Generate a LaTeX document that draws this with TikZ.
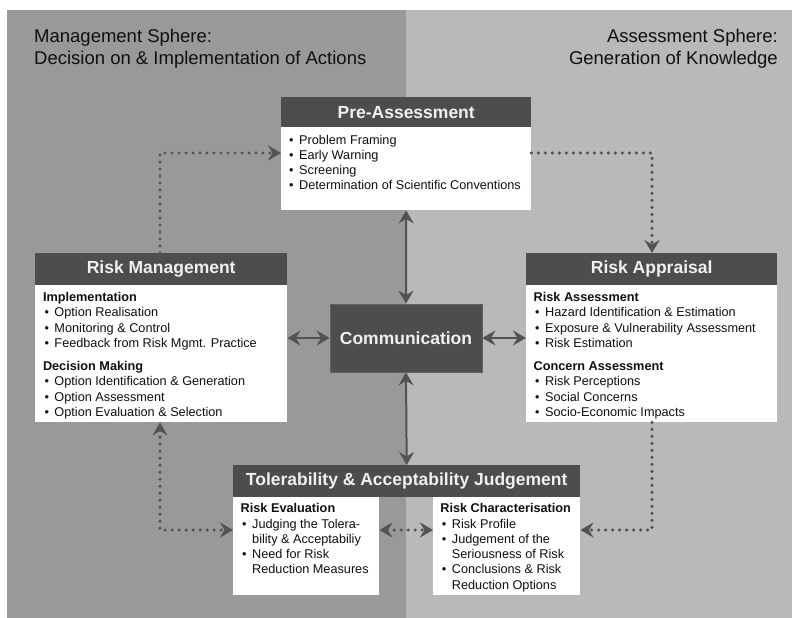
\documentclass[tikz,border=0pt]{standalone}
\usepackage{fontspec}
\setmainfont{Liberation Sans}
\usetikzlibrary{arrows.meta}
\definecolor{bgL}{HTML}{999999}
\definecolor{bgR}{HTML}{B9B9B9}
\definecolor{hdr}{HTML}{4D4D4D}
\definecolor{arr}{HTML}{525252}
\definecolor{ttl}{HTML}{101010}
\newcommand\bu{\makebox[11.5pt][l]{\hspace{1.5pt}\textbullet}}
\newcommand\bi{\hspace*{11.5pt}}
\begin{document}
\begin{tikzpicture}[x=1pt,y=-1pt,
  >={Stealth[length=13pt,width=15pt,inset=4.5pt]},
  hbox/.style={fill=hdr,text=white!94!black,inner sep=0,anchor=north west,
    font=\bfseries\fontsize{17.5}{20}\selectfont},
  bbox/.style={fill=white,inner sep=0,anchor=north west},
  btext/.style={inner sep=0,anchor=north west,align=left,text=ttl,
    font=\fontsize{12.7}{15.3}\selectfont},
  ttext/.style={inner sep=0,text=ttl,font=\fontsize{18.5}{22}\selectfont},
  sarr/.style={draw=arr,fill=arr,line width=2pt,<->},
  darr/.style={draw=arr,line width=3.4pt,line cap=round,dash pattern=on 0pt off 7pt}
]
\useasboundingbox (0,0) rectangle (792,618);
\fill[white] (0,0) rectangle (792,618);
\fill[bgL] (7,10) rectangle (406,618);
\fill[bgR] (406,10) rectangle (792,618);

% sphere titles
\node[ttext,anchor=west,align=left] (msph) at (34,49) {Management Sphere:\\Decision on \& Implementation of Actions};
\node[ttext,anchor=east,align=right] (asph) at (778,49) {Assessment Sphere:\\Generation of Knowledge};

% Pre-Assessment
\node[hbox,minimum width=250,minimum height=30] (pah) at (281,97) {Pre-Assessment};
\node[bbox,minimum width=250,minimum height=83] (pab) at (281,127) {};
\node[btext] (pat) at (287.5,134.6) {\bu Problem Framing\\\bu Early Warning\\\bu Screening\\\bu Determination of Scientific Conventions};

% Risk Management
\node[hbox,minimum width=252,minimum height=32] (rmh) at (35,253) {Risk Management};
\node[bbox,minimum width=252,minimum height=137] (rmb) at (35,285) {};
\node[btext] (rmt) at (42.8,292) {\textbf{Implementation}\\\bu Option Realisation\\\bu Monitoring \& Control\\\bu Feedback from Risk Mgmt. Practice\\[8pt]
\textbf{Decision Making}\\\bu Option Identification \& Generation\\\bu Option Assessment\\\bu Option Evaluation \& Selection};

% Risk Appraisal
\node[hbox,minimum width=251,minimum height=32] (rah) at (526,253) {Risk Appraisal};
\node[bbox,minimum width=251,minimum height=137] (rab) at (526,285) {};
\node[btext] (rat) at (533.5,292) {\textbf{Risk Assessment}\\\bu Hazard Identification \& Estimation\\\bu Exposure \& Vulnerability Assessment\\\bu Risk Estimation\\[8pt]
\textbf{Concern Assessment}\\\bu Risk Perceptions\\\bu Social Concerns\\\bu Socio-Economic Impacts};

% Communication
\node[fill=hdr,draw=black!62,line width=0.8pt,text=white!94!black,inner sep=0,
  minimum width=152,minimum height=68,font=\bfseries\fontsize{17.5}{20}\selectfont] (com) at (406,338) {Communication};

% Tolerability & Acceptability Judgement
\node[hbox,minimum width=347,minimum height=32] (tah) at (233,465) {Tolerability \& Acceptability Judgement};
\node[bbox,minimum width=146,minimum height=98] (tlb) at (233,497) {};
\node[bbox,minimum width=147,minimum height=98] (trb) at (433,497) {};
\node[btext] (tlt) at (240.5,503.3) {\textbf{Risk Evaluation}\\\bu Judging the Tolera-\\\bi bility \& Acceptabiliy\\\bu Need for Risk\\\bi Reduction Measures};
\node[btext] (trt) at (440.2,503.3) {\textbf{Risk Characterisation}\\\bu Risk Profile\\\bu Judgement of the\\\bi Seriousness of Risk\\\bu Conclusions \& Risk\\\bi Reduction Options};

% solid connectors
\draw[sarr] (pab.south) -- (com.north);
\draw[sarr] (com.south) -- (tah.north);
\draw[sarr] (com.west) -- (com.west -| rmb.east);
\draw[sarr] (com.east) -- (com.east -| rab.west);

% dotted connectors
\coordinate (c1) at (160,153);
\coordinate (c2) at (652,153);
\coordinate (c3) at (652,530);
\coordinate (c4) at (160,530);
\draw[darr,->] (c1 |- rmh.north) -- (c1) -- (c1 -| pab.west);
\draw[darr,->] (c2 -| pab.east) -- (c2) -- (c2 |- rah.north);
\draw[darr,->] (c3 |- rab.south) -- (c3) -- (c3 -| trb.east);
\draw[darr,<->] (c4 |- rmb.south) -- (c4) -- (c4 -| tlb.west);
\draw[darr,<->] (c4 -| tlb.east) -- (c4 -| trb.west);
\end{tikzpicture}
\end{document}
